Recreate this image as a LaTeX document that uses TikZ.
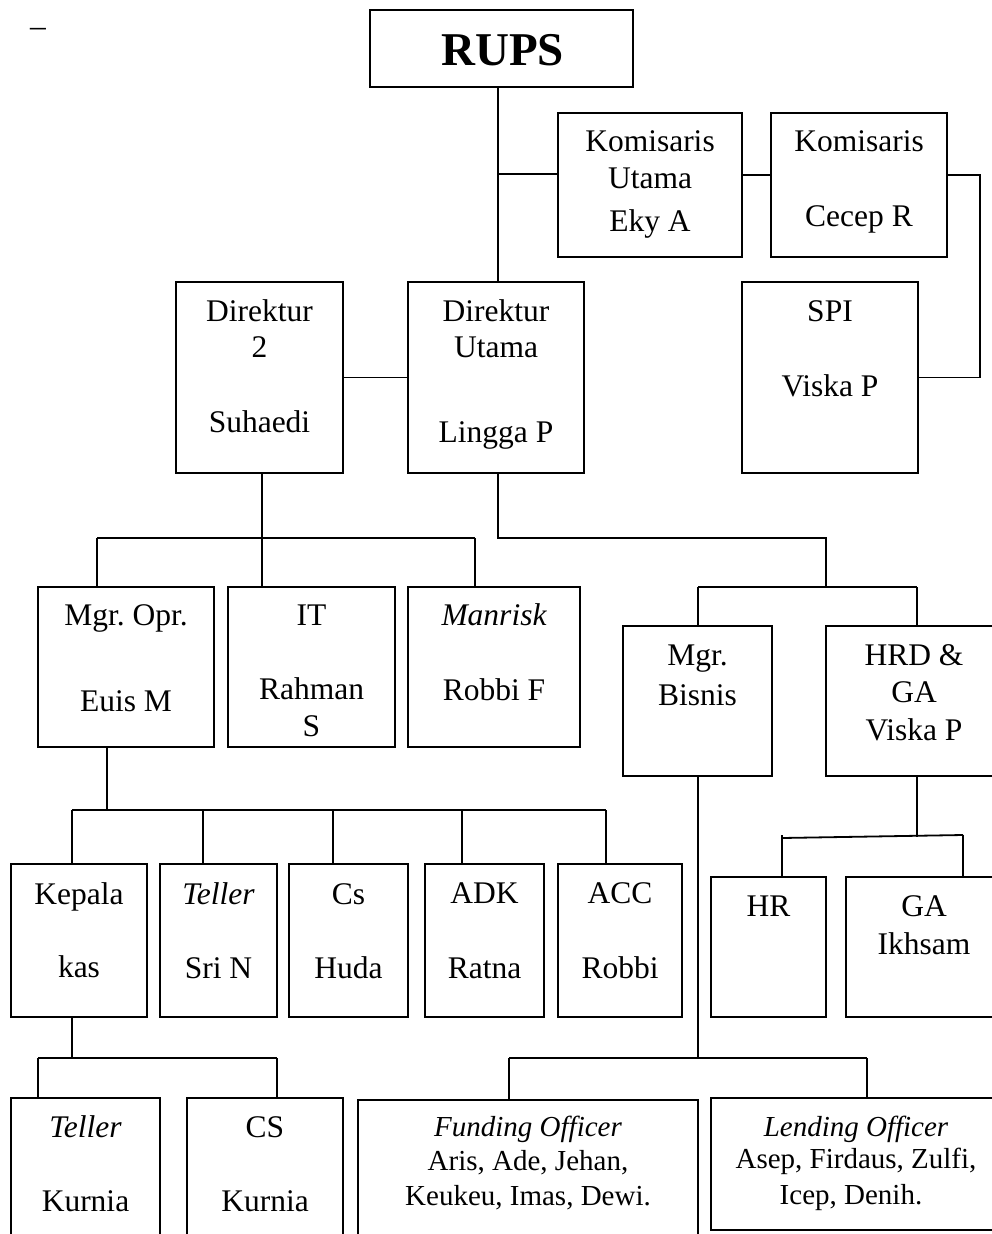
\documentclass[tikz,border=0pt]{standalone}
\usepackage{fontspec}
\setmainfont{Liberation Serif}
\frenchspacing
\begin{document}
\begin{tikzpicture}[x=1pt,y=-1pt,
  box/.style={draw,line width=1.8pt,inner sep=0pt,minimum width=#1},
  conn/.style={line width=1.8pt},
  txt/.style={anchor=base,inner sep=0pt,font=\fontsize{31.5pt}{36pt}\selectfont},
  stxt/.style={anchor=base,inner sep=0pt,font=\fontsize{29pt}{33pt}\selectfont}]
\useasboundingbox (0,0) rectangle (992,1234);
\clip (0,0) rectangle (992,1234);
\fill[white] (0,0) rectangle (992,1234);

% stray dash
\node[txt] (dash) at (38,36.6) {–};

% boxes
\node[box=263, minimum height=77] (rups) at (501.5,48.5) {};
\node[box=184, minimum height=144] (ku) at (650,185) {};
\node[box=176, minimum height=144] (k2) at (859,185) {};
\node[box=176, minimum height=191] (spi) at (830,377.5) {};
\node[box=167, minimum height=191] (d2) at (259.5,377.5) {};
\node[box=176, minimum height=191] (du) at (496,377.5) {};
\node[box=176, minimum height=160] (mo) at (126,667) {};
\node[box=167, minimum height=160] (it) at (311.5,667) {};
\node[box=172, minimum height=160] (mr) at (494,667) {};
\node[box=149, minimum height=150] (mb) at (697.5,701) {};
\node[box=176, minimum height=150] (hrd) at (914,701) {};
\node[box=136, minimum height=153] (kk) at (79,940.5) {};
\node[box=117, minimum height=153] (tl) at (218.5,940.5) {};
\node[box=119, minimum height=153] (cs) at (348.5,940.5) {};
\node[box=119, minimum height=153] (adk) at (484.5,940.5) {};
\node[box=124, minimum height=153] (acc) at (620,940.5) {};
\node[box=115, minimum height=140] (hr) at (768.5,947) {};
\node[box=156, minimum height=140] (ga) at (924,947) {};
\node[box=149, minimum height=160] (tlb) at (85.5,1178) {};
\node[box=156, minimum height=160] (csb) at (265,1178) {};
\node[box=340, minimum height=156] (fo) at (528,1178) {};
\node[box=291, minimum height=132] (lo) at (856.5,1164) {};

% texts
\node[anchor=base,inner sep=0pt,font=\fontsize{47pt}{50pt}\selectfont\bfseries] (trups) at (502.5,65) {RUPS};
\node[txt] (tku1) at (650,151.7) {Komisaris};
\node[txt] (tku2) at (650,188.3) {Utama};
\node[txt] (tku3) at (650,231.7) {Eky A};
\node[txt] (tk21) at (859,151.7) {Komisaris};
\node[txt] (tk22) at (859,226.7) {Cecep R};
\node[txt] (tspi1) at (830,321.7) {SPI};
\node[txt] (tspi2) at (830,396) {Viska P};
\node[txt] (td21) at (259.5,321.7) {Direktur};
\node[txt] (td22) at (259.5,357.7) {2};
\node[txt] (td23) at (259.5,432.7) {Suhaedi};
\node[txt] (tdu1) at (496,321.7) {Direktur};
\node[txt] (tdu2) at (496,357.7) {Utama};
\node[txt] (tdu3) at (496,442.7) {Lingga P};
\node[txt] (tmo1) at (126,625.7) {Mgr. Opr.};
\node[txt] (tmo2) at (126,711) {Euis M};
\node[txt] (tit1) at (311.5,625.7) {IT};
\node[txt] (tit2) at (311.5,699.3) {Rahman};
\node[txt] (tit3) at (311.5,736) {S};
\node[txt] (tmr1) at (494,625.7) {\itshape Manrisk};
\node[txt] (tmr2) at (494,700.7) {Robbi F};
\node[txt] (tmb1) at (697.5,665) {Mgr.};
\node[txt] (tmb2) at (697.5,705) {Bisnis};
\node[txt] (thrd1) at (914,665) {HRD \&};
\node[txt] (thrd2) at (914,702.7) {GA};
\node[txt] (thrd3) at (914,740) {Viska P};
\node[txt] (tkk1) at (79,904) {Kepala};
\node[txt] (tkk2) at (79,977.3) {kas};
\node[txt] (ttl1) at (218.5,904) {\itshape Teller};
\node[txt] (ttl2) at (218.5,978) {Sri N};
\node[txt] (tcs1) at (348.5,904) {Cs};
\node[txt] (tcs2) at (348.5,978) {Huda};
\node[txt] (tadk1) at (484.5,903.3) {ADK};
\node[txt] (tadk2) at (484.5,978.3) {Ratna};
\node[txt] (tacc1) at (620,903.3) {ACC};
\node[txt] (tacc2) at (620,978.3) {Robbi};
\node[txt] (thr1) at (768.5,916.7) {HR};
\node[txt] (tga1) at (924,916.7) {GA};
\node[txt] (tga2) at (924,954) {Ikhsam};
\node[txt] (ttlb1) at (85.5,1137.3) {\itshape Teller};
\node[txt] (ttlb2) at (85.5,1211.7) {Kurnia};
\node[txt] (tcsb1) at (265,1137.3) {CS};
\node[txt] (tcsb2) at (265,1211.7) {Kurnia};
\node[stxt] (tfo1) at (528,1136.7) {\itshape Funding Officer};
\node[stxt] (tfo2) at (528,1170.7) {Aris, Ade, Jehan,};
\node[stxt] (tfo3) at (528,1205) {Keukeu, Imas, Dewi.};
\node[stxt] (tlo1) at (856,1136) {\itshape Lending Officer};
\node[stxt] (tlo2) at (856,1168.3) {Asep, Firdaus, Zulfi,};
\node[stxt] (tlo3) at (851,1204) {Icep, Denih.};

% connector coordinates
\coordinate (c0) at (498,174);
\coordinate (c1) at (750,175);
\coordinate (c2) at (980,175);
\coordinate (bd2) at (262,538);
\coordinate (bmo) at (97,538);
\coordinate (bmr) at (475,538);
\coordinate (bdu) at (498,538);
\coordinate (bdu2) at (826,538);
\coordinate (bmb) at (698,587);
\coordinate (bhrd) at (917,587);
\coordinate (bo) at (107,810);
\coordinate (bo1) at (72,810);
\coordinate (bo2) at (203,810);
\coordinate (bo3) at (333,810);
\coordinate (bo4) at (462,810);
\coordinate (bo5) at (606,810);
\coordinate (bk) at (72,1058);
\coordinate (bk1) at (38,1058);
\coordinate (bk2) at (277,1058);
\coordinate (bb) at (698,1058);
\coordinate (bb1) at (509,1058);
\coordinate (bb2) at (867,1058);
\coordinate (bh) at (917,837);
\coordinate (bh1) at (782,838);
\coordinate (bh2) at (963,835);
\coordinate (bh3) at (782,835);

% connectors
\draw[conn] (c0 |- rups.south) -- (c0 |- du.north);
\draw[conn] (c0) -- (c0 -| ku.west);
\draw[conn] (c1 -| ku.east) -- (c1 -| k2.west);
\draw[conn] (c2 -| k2.east) -- (c2) |- (spi.east);
\draw[conn] (d2.east) -- (du.west);
\draw[conn] (bd2 |- d2.south) -- (bd2);
\draw[conn] (bmo) -- (bmr);
\draw[conn] (bmo) -- (bmo |- mo.north);
\draw[conn] (bd2) -- (bd2 |- it.north);
\draw[conn] (bmr) -- (bmr |- mr.north);
\draw[conn] (bdu |- du.south) -- (bdu) -- (bdu2) -- (bdu2 |- bmb);
\draw[conn] (bmb) -- (bhrd);
\draw[conn] (bmb) -- (bmb |- mb.north);
\draw[conn] (bhrd) -- (bhrd |- hrd.north);
\draw[conn] (bo |- mo.south) -- (bo);
\draw[conn] (bo1) -- (bo5);
\draw[conn] (bo1) -- (bo1 |- kk.north);
\draw[conn] (bo2) -- (bo2 |- tl.north);
\draw[conn] (bo3) -- (bo3 |- cs.north);
\draw[conn] (bo4) -- (bo4 |- adk.north);
\draw[conn] (bo5) -- (bo5 |- acc.north);
\draw[conn] (bk |- kk.south) -- (bk);
\draw[conn] (bk1) -- (bk2);
\draw[conn] (bk1) -- (bk1 |- tlb.north);
\draw[conn] (bk2) -- (bk2 |- csb.north);
\draw[conn] (bb |- mb.south) -- (bb);
\draw[conn] (bb1) -- (bb2);
\draw[conn] (bb1) -- (bb1 |- fo.north);
\draw[conn] (bb2) -- (bb2 |- lo.north);
\draw[conn] (bh |- hrd.south) -- (bh);
\draw[conn] (bh1) -- (bh2);
\draw[conn] (bh3) -- (bh3 |- hr.north);
\draw[conn] (bh2) -- (bh2 |- ga.north);
\end{tikzpicture}
\end{document}
